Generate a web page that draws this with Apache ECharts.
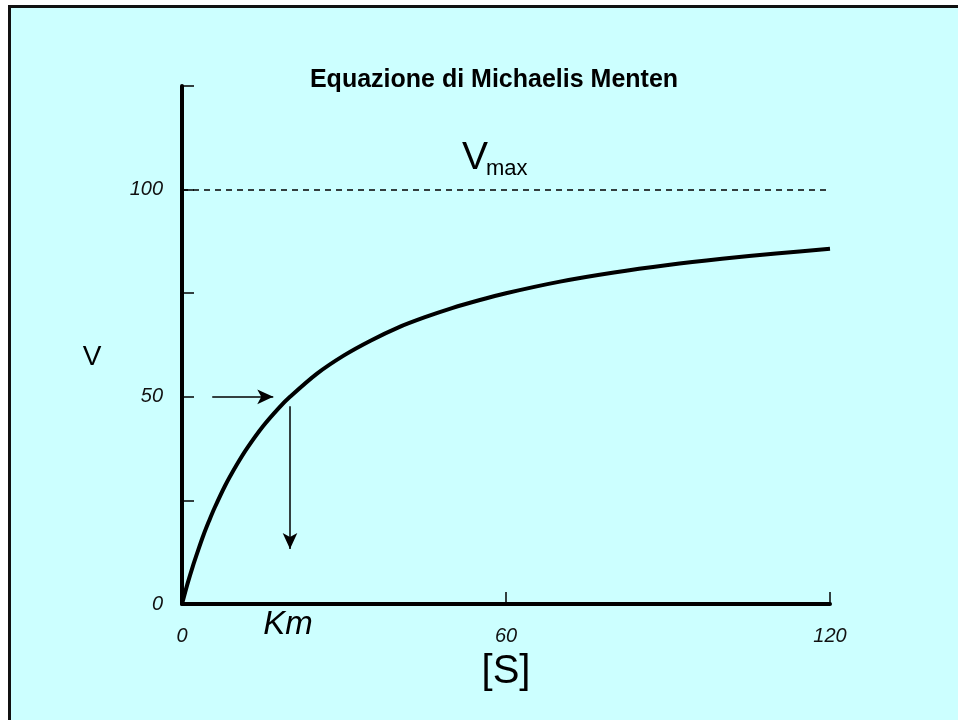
<!DOCTYPE html>
<html>
<head>
<meta charset="utf-8">
<script src="https://cdn.jsdelivr.net/npm/echarts@6/dist/echarts.min.js"></script>
<style>
  html, body { margin: 0; padding: 0; background: #ffffff; }
  #chart { width: 958px; height: 720px; }
</style>
</head>
<body>
<div id="chart"></div>
<script>
// Substrate concentration [S] and reaction velocity V along the saturation curve
const substrate = [0, 1, 2, 3, 4, 5, 6, 8, 10, 12, 15, 18, 20, 25, 30, 35, 40, 45, 50, 55, 60, 70, 80, 90, 100, 110, 120];
const velocity  = [0, 4.8, 9.1, 13.0, 16.7, 20.0, 23.1, 28.6, 33.3, 37.5, 42.9, 47.4, 50.0, 55.6, 60.0, 63.6, 66.7, 69.2, 71.4, 73.3, 75.0, 77.8, 80.0, 81.8, 83.3, 84.6, 85.7];

// Reference levels
const vmax = 100;
const km = 20;

// Axis ranges and labelled ticks
const xRange = [0, 120];
const yRange = [0, 125];
const yLabelled = [0, 50, 100];

// Annotation arrows (data coordinates): V = Vmax/2 pointing at the curve, then down to Km
const halfArrowFrom = [5.6, 50];
const halfArrowTo   = [16.9, 50];
const kmArrowFrom   = [20, 47.7];
const kmArrowTo     = [20, 13.3];

const ink = '#000000';
const font = '"Liberation Sans", Arial, sans-serif';

const chart = echarts.init(document.getElementById('chart'), null, { renderer: 'canvas' });

chart.setOption({
  animation: false,
  backgroundColor: '#ffffff',
  title: {
    text: 'Equazione di Michaelis Menten',
    left: 489,
    top: 63,
    textAlign: 'center',
    textStyle: { fontFamily: font, fontSize: 25, fontWeight: 'bold', color: ink }
  },
  graphic: [
    {
      type: 'rect', z: -10, silent: true,
      shape: { x: 9.5, y: 6.5, width: 1200, height: 1200 },
      style: { fill: '#CCFFFF', stroke: '#111111', lineWidth: 3 }
    },
    {
      type: 'text', silent: true, x: 92, y: 357,
      style: { text: 'V', font: '28px ' + font, fill: ink, align: 'center', verticalAlign: 'middle' }
    },
    {
      type: 'text', silent: true, x: 462, y: 158,
      style: { text: 'V', font: '39px ' + font, fill: ink, align: 'left', verticalAlign: 'middle' }
    },
    {
      type: 'text', silent: true, x: 486, y: 169,
      style: { text: 'max', font: '22px ' + font, fill: ink, align: 'left', verticalAlign: 'middle' }
    },
    {
      type: 'text', silent: true, x: 288, y: 625,
      style: { text: 'Km', font: 'italic 33px ' + font, fill: ink, align: 'center', verticalAlign: 'middle' }
    }
  ],
  grid: { left: 182, right: 128, top: 86, bottom: 116, containLabel: false },
  xAxis: {
    type: 'value',
    min: xRange[0], max: xRange[1], interval: 60,
    name: '[S]',
    nameLocation: 'middle',
    nameGap: 48,
    nameTextStyle: { fontFamily: font, fontSize: 40, color: ink },
    axisLine: { show: true, onZero: false, lineStyle: { color: ink, width: 4 } },
    axisTick: { show: true, inside: true, length: 12, lineStyle: { color: ink, width: 1.5 } },
    axisLabel: { margin: 22, fontFamily: font, fontSize: 20, fontStyle: 'italic', color: '#111111' },
    splitLine: { show: false }
  },
  yAxis: {
    type: 'value',
    min: yRange[0], max: yRange[1], interval: 25,
    axisLine: { show: true, onZero: false, lineStyle: { color: ink, width: 4 } },
    axisTick: { show: true, inside: true, length: 12, lineStyle: { color: ink, width: 1.5 } },
    axisLabel: {
      margin: 19, fontFamily: font, fontSize: 20, fontStyle: 'italic', color: '#111111',
      formatter: v => (yLabelled.indexOf(v) >= 0 ? String(v) : '')
    },
    splitLine: { show: false }
  },
  series: [{
    type: 'line',
    data: substrate.map((s, i) => [s, velocity[i]]),
    smooth: 0.3,
    showSymbol: false,
    lineStyle: { color: ink, width: 4, cap: 'butt' },
    markLine: {
      silent: true,
      animation: false,
      symbol: ['none', 'none'],
      label: { show: false },
      lineStyle: { color: ink, width: 1.5, type: 'solid' },
      data: [
        [
          { coord: [xRange[0], vmax], lineStyle: { type: [6, 5], width: 1.5, color: ink } },
          { coord: [xRange[1], vmax] }
        ],
        [
          { coord: halfArrowFrom, symbol: 'none' },
          { coord: halfArrowTo, symbol: 'arrow', symbolSize: [11, 16] }
        ],
        [
          { coord: kmArrowFrom, symbol: 'none' },
          { coord: kmArrowTo, symbol: 'arrow', symbolSize: [11, 16] }
        ]
      ]
    }
  }]
});
</script>
</body>
</html>
